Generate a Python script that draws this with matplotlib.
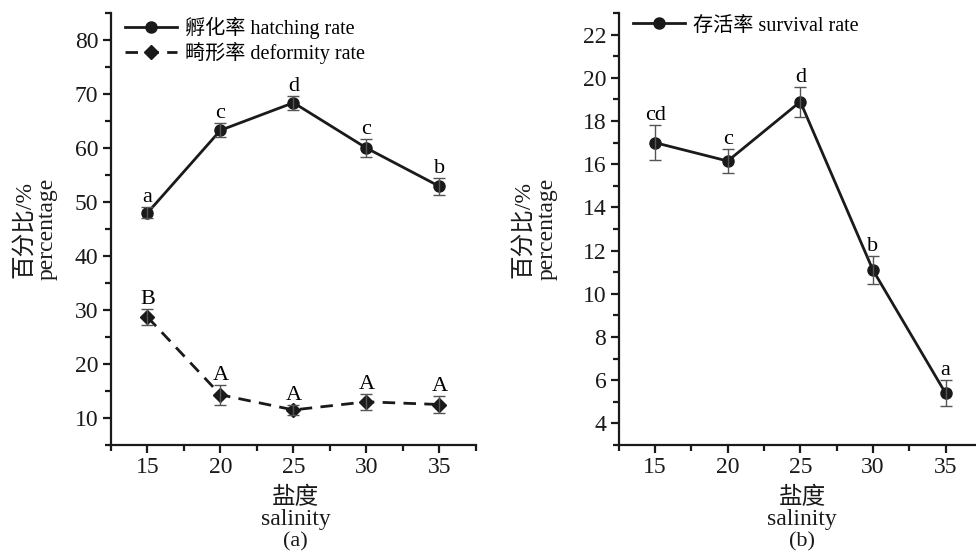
import matplotlib
matplotlib.use("Agg")
import matplotlib.pyplot as plt
from matplotlib.ticker import MultipleLocator

plt.rcParams['font.family'] = ['Liberation Serif', 'Noto Sans CJK SC']

salinity = [15, 20, 25, 30, 35]

hatch = [48.0, 63.3, 68.4, 60.0, 52.9]
hatch_err = [1.0, 1.3, 1.3, 1.7, 1.5]
hatch_sig = ['a', 'c', 'd', 'c', 'b']

deform = [28.7, 14.3, 11.5, 13.0, 12.5]
deform_err = [1.5, 1.8, 1.0, 1.5, 1.6]
deform_sig = ['B', 'A', 'A', 'A', 'A']

survival = [17.0, 16.15, 18.9, 11.1, 5.4]
survival_err = [0.8, 0.55, 0.7, 0.65, 0.6]
survival_sig = ['cd', 'c', 'd', 'b', 'a']

TICK_FS = 17
LAB_FS = 17
ANN_FS = 16
LEG_FS = 14.5
INK = '#1a1a1a'


def style_axes(ax, ymaj, ymin):
    for s in ['top', 'right']:
        ax.spines[s].set_visible(False)
    for s in ['left', 'bottom']:
        ax.spines[s].set_linewidth(1.6)
        ax.spines[s].set_color(INK)
    ax.xaxis.set_major_locator(MultipleLocator(5))
    ax.xaxis.set_minor_locator(MultipleLocator(2.5))
    ax.yaxis.set_major_locator(MultipleLocator(ymaj))
    ax.yaxis.set_minor_locator(MultipleLocator(ymin))
    ax.tick_params(which='major', direction='out', length=6, width=1.6,
                   labelsize=TICK_FS, colors=INK, pad=3)
    ax.tick_params(which='minor', direction='out', length=4, width=1.6,
                   colors=INK)


def labels(ax, panel, ylab_dx):
    # y label: two rotated lines, offsets in pixels from the left spine
    for txt, dx in zip(['百分比/%', 'percentage'], ylab_dx):
        ax.annotate(txt, (0, 0.5), xycoords='axes fraction',
                    xytext=(dx, 0), textcoords='offset pixels',
                    rotation=90, ha='center', va='center', fontsize=LAB_FS,
                    color=INK)
    # x label: three stacked lines, baselines below the bottom spine
    for txt, dy, fs in zip(['盐度', 'salinity', panel], [-59, -80, -101],
                           [LAB_FS, LAB_FS, 16]):
        ax.annotate(txt, (0.5, 0), xycoords='axes fraction',
                    xytext=(2, dy), textcoords='offset pixels',
                    ha='center', va='baseline', fontsize=fs, color=INK)


def draw(ax, y, err, sig, marker, ms, dashed=False):
    kw = dict(linestyle='--', dashes=(4.5, 3)) if dashed else {}
    line, = ax.plot(salinity, y, color=INK, marker=marker, markersize=ms,
                    linewidth=2.0, **kw)
    ax.errorbar(salinity, y, yerr=err, fmt='none', ecolor='#555555',
                elinewidth=1.0, capsize=4, capthick=1.0)
    for x, v, e, s in zip(salinity, y, err, sig):
        ax.annotate(s, (x, v + e), xytext=(0, 0), textcoords='offset points',
                    ha='center', va='bottom', fontsize=ANN_FS)
    return line


fig = plt.figure(figsize=(9.76, 5.53), dpi=100)

ax1 = fig.add_axes([0.1137, 0.1953, 0.374, 0.781])
l1 = draw(ax1, hatch, hatch_err, hatch_sig, 'o', 8)
l2 = draw(ax1, deform, deform_err, deform_sig, 'D', 7, dashed=True)
ax1.set_xlim(12.5, 37.5)
ax1.set_ylim(5, 85)
style_axes(ax1, 10, 5)
labels(ax1, '(a)', [-87, -64])
ax1.legend([l1, l2], ['孵化率 hatching rate', '畸形率 deformity rate'],
           loc='upper left', bbox_to_anchor=(0.0, 1.025), frameon=False,
           fontsize=LEG_FS, handlelength=2.6, handletextpad=0.4,
           labelspacing=0.15, borderaxespad=0.3)

ax2 = fig.add_axes([0.634, 0.1953, 0.372, 0.781])
l3 = draw(ax2, survival, survival_err, survival_sig, 'o', 8)
ax2.set_xlim(12.5, 37.5)
ax2.set_ylim(3, 23)
style_axes(ax2, 2, 1)
labels(ax2, '(b)', [-96, -72])
ax2.legend([l3], ['存活率 survival rate'], loc='upper left',
           bbox_to_anchor=(0.0, 1.025), frameon=False, fontsize=LEG_FS,
           handlelength=2.6, handletextpad=0.4, borderaxespad=0.3)

fig.savefig('out.png', dpi=100)
